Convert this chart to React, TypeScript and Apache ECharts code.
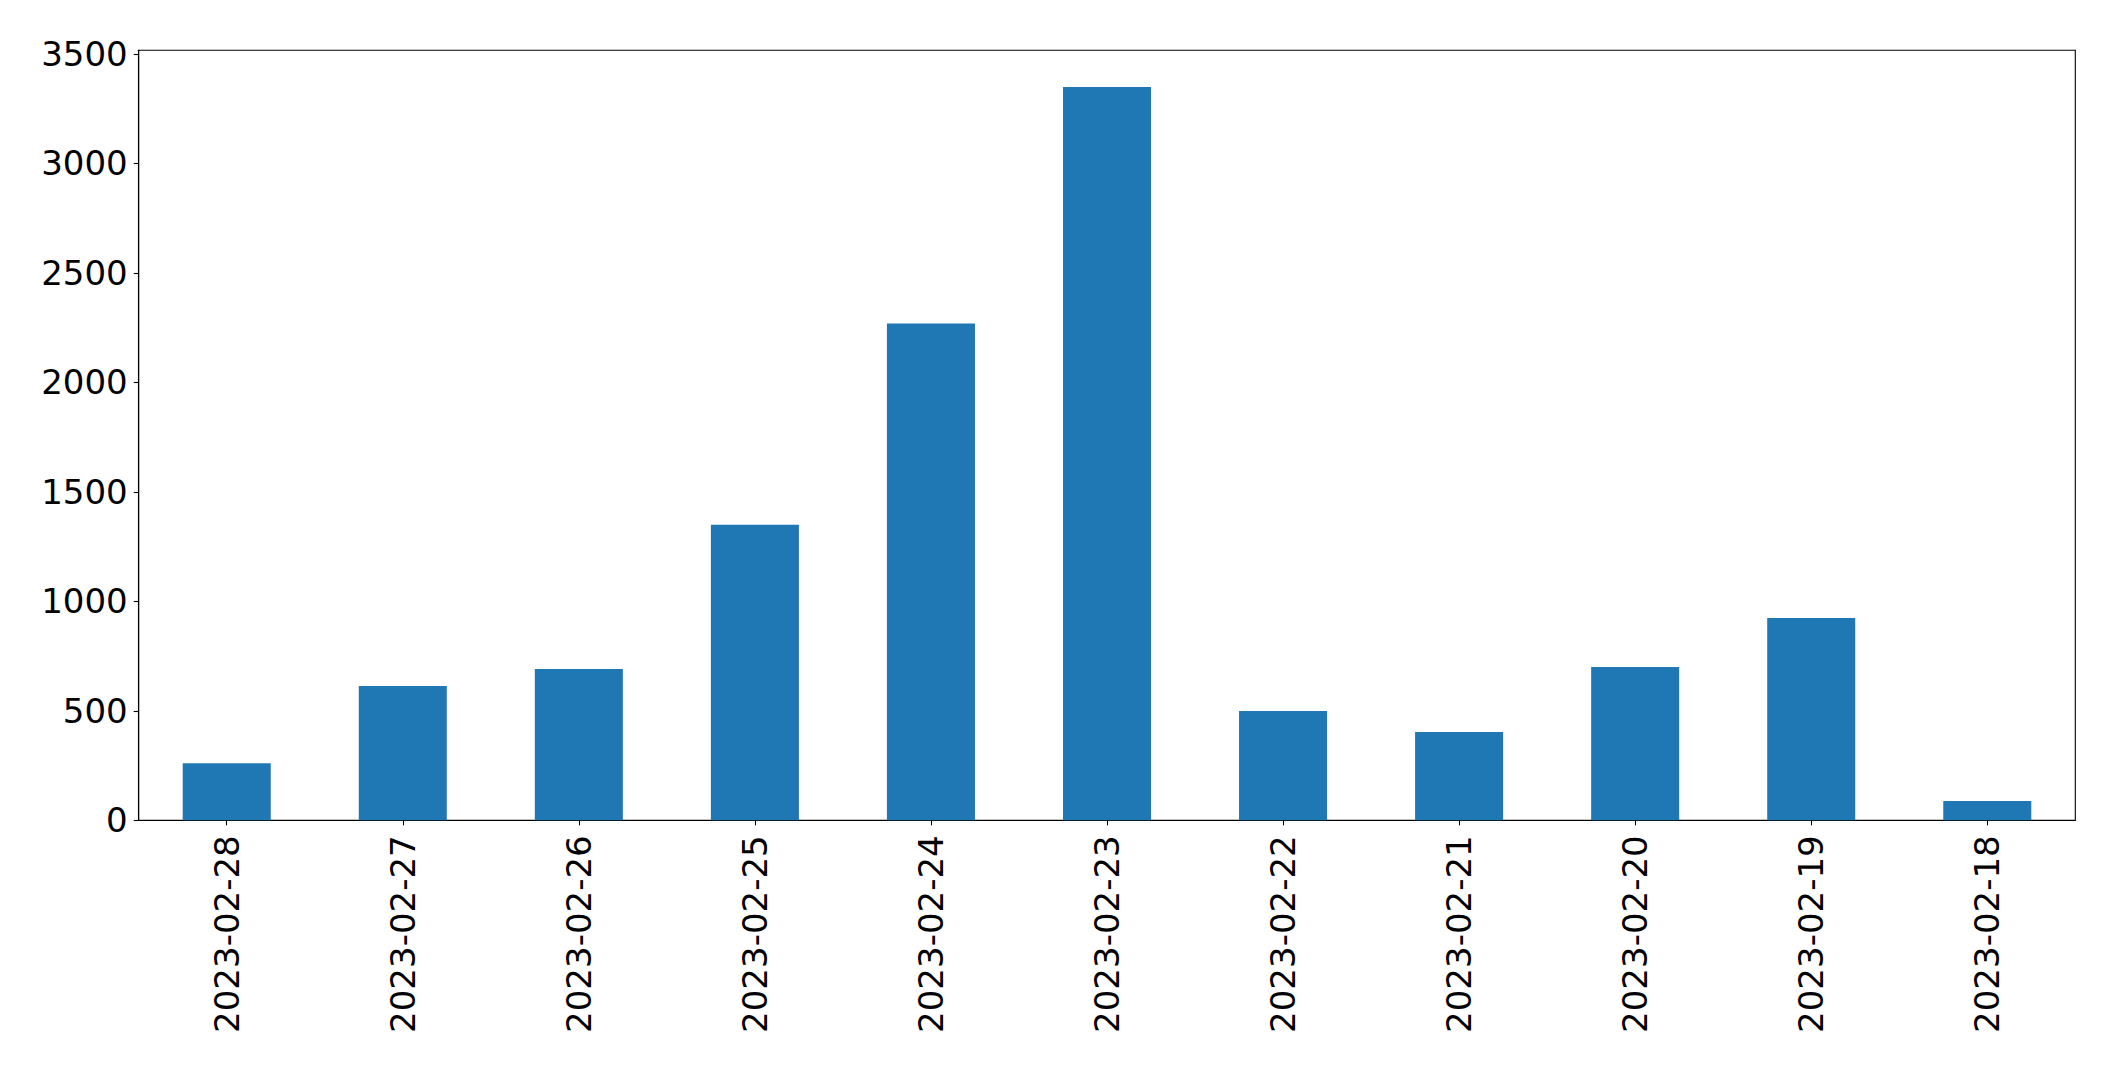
import React, { useEffect, useRef } from "react";
import * as echarts from "echarts";

const categories = [
  "2023-02-28",
  "2023-02-27",
  "2023-02-26",
  "2023-02-25",
  "2023-02-24",
  "2023-02-23",
  "2023-02-22",
  "2023-02-21",
  "2023-02-20",
  "2023-02-19",
  "2023-02-18",
];
const values = [260, 613, 691, 1350, 2268, 3348, 499, 403, 700, 924, 88];
const yTicks = [0, 500, 1000, 1500, 2000, 2500, 3000, 3500];
const yMax = 3516;

export default function App() {
  const ref = useRef<HTMLDivElement>(null);
  useEffect(() => {
    if (!ref.current) return;
    const chart = echarts.init(ref.current, null, { renderer: "svg" });
    const font = "DejaVu Sans";
    chart.setOption({
      animation: false,
      backgroundColor: "#ffffff",
      grid: {
        left: 138.7,
        right: 39.7,
        top: 50.3,
        bottom: 251.7,
        show: true,
        borderColor: "#000000",
        borderWidth: 1.1,
        backgroundColor: "transparent",
        containLabel: false,
      },
      xAxis: {
        type: "category",
        data: categories,
        axisLine: { show: true, lineStyle: { color: "#000000", width: 1.1 } },
        axisTick: {
          show: true,
          alignWithLabel: true,
          length: 5,
          lineStyle: { color: "#000000", width: 1.1 },
        },
        axisLabel: {
          rotate: 90,
          margin: 15,
          fontSize: 34,
          fontFamily: font,
          color: "#000000",
          interval: 0,
        },
        splitLine: { show: false },
      },
      yAxis: {
        type: "value",
        min: 0,
        max: yMax,
        interval: 500,
        axisLine: { show: true, lineStyle: { color: "#000000", width: 1.1 } },
        axisTick: {
          show: true,
          length: 5,
          customValues: yTicks,
          lineStyle: { color: "#000000", width: 1.1 },
        },
        axisLabel: {
          margin: 11,
          fontSize: 34,
          fontFamily: font,
          color: "#000000",
          customValues: yTicks,
          formatter: (v: number) => String(v),
        },
        splitLine: { show: false },
      },
      series: [
        {
          type: "bar",
          data: values,
          barWidth: "50%",
          itemStyle: { color: "#1f77b4" },
        },
      ],
    });
    return () => chart.dispose();
  }, []);
  return (
    <div
      ref={ref}
      style={{ position: "fixed", left: 0, top: 0, width: 2115, height: 1072 }}
    />
  );
}
